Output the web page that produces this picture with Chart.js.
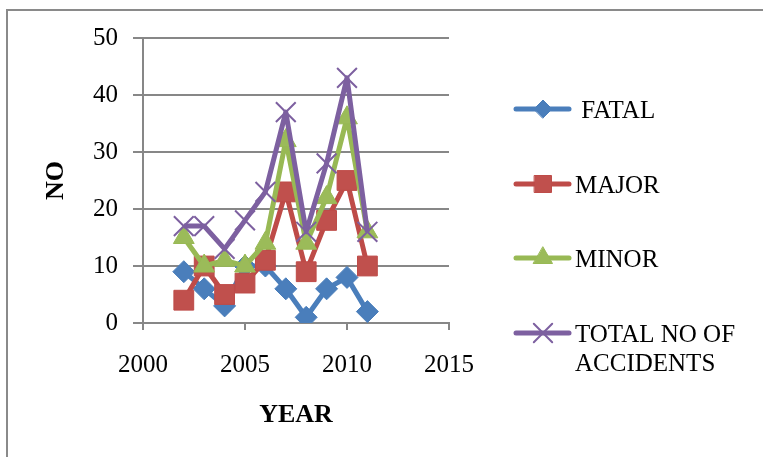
<!DOCTYPE html>
<html>
<head>
<meta charset="utf-8">
<script src="https://cdn.jsdelivr.net/npm/chart.js@4"></script>
<style>
  html, body { margin: 0; padding: 0; background: #fff; }
  #wrap { width: 763px; height: 457px; }
</style>
</head>
<body>
<div id="wrap"><canvas id="my-chart" width="763" height="457"></canvas></div>
<script>
const years = [2002, 2003, 2004, 2005, 2006, 2007, 2008, 2009, 2010, 2011];
const fatal = [9, 6, 3, 10, 10, 6, 1, 6, 8, 2];
const major = [4, 10, 5, 7, 11, 23, 9, 18, 25, 10];
const minor = [15, 10, 11, 10, 14, 32, 14, 22, 36, 16];
const total = [17, 17, 13, 18, 23, 37, 16, 28, 43, 16];
const seriesNames = [' FATAL', 'MAJOR', 'MINOR', ['TOTAL NO OF', 'ACCIDENTS']];

const FONT = '"Liberation Serif", "Times New Roman", serif';
const GRID = '#878787';

function pts(vals) {
  return vals.map((v, i) => ({ x: years[i], y: v }));
}

// frame round the chart
const framePlugin = {
  id: 'frame',
  beforeDraw(chart) {
    const c = chart.ctx;
    c.save();
    c.strokeStyle = '#8a8a8a';
    c.lineWidth = 2;
    c.strokeRect(7, 10, 820, 520);
    c.restore();
  }
};

// legend drawn by hand, laid out like the excel one
const legendPlugin = {
  id: 'sideLegend',
  afterDraw(chart) {
    const c = chart.ctx;
    const rows = [109, 184, 258, 333];
    c.save();
    chart.data.datasets.forEach((ds, i) => {
      const y = rows[i];
      c.strokeStyle = ds.borderColor;
      c.lineWidth = 5;
      c.lineCap = 'round';
      c.beginPath();
      c.moveTo(516, y);
      c.lineTo(569, y);
      c.stroke();
      c.fillStyle = ds.backgroundColor;
      c.strokeStyle = ds.borderColor;
      c.lineWidth = ds.pointBorderWidth;
      Chart.helpers.drawPoint(c, {
        pointStyle: ds.pointStyle,
        radius: ds.legendRadius,
        rotation: 0,
        borderWidth: ds.pointBorderWidth
      }, 543, y);
      c.fillStyle = '#000';
      c.font = '25px ' + FONT;
      c.textBaseline = 'middle';
      c.textAlign = 'left';
      const lines = Array.isArray(ds.label) ? ds.label : [ds.label];
      lines.forEach((t, k) => c.fillText(t, 575, y + 2 + k * 29));
    });
    c.restore();
  }
};

const ctx = document.getElementById('my-chart');
const myChart = new Chart(ctx, {
  type: 'line',
  data: {
    datasets: [
      {
        label: seriesNames[0],
        data: pts(fatal),
        borderColor: '#4a7ebb',
        backgroundColor: '#4a7ebb',
        pointStyle: 'rectRot',
        pointRadius: 11,
        legendRadius: 9,
        pointBorderWidth: 1,
        order: 4
      },
      {
        label: seriesNames[1],
        data: pts(major),
        borderColor: '#be4b48',
        backgroundColor: '#c0504d',
        pointStyle: 'rect',
        pointRadius: 14,
        legendRadius: 12,
        pointBorderWidth: 1,
        order: 3
      },
      {
        label: seriesNames[2],
        data: pts(minor),
        borderColor: '#98b954',
        backgroundColor: '#9bbb59',
        pointStyle: 'triangle',
        pointRadius: 12,
        legendRadius: 11,
        pointBorderWidth: 1,
        order: 2
      },
      {
        label: seriesNames[3],
        data: pts(total),
        borderColor: '#7d60a0',
        backgroundColor: '#7d60a0',
        pointStyle: 'crossRot',
        pointRadius: 14,
        legendRadius: 13,
        pointBorderWidth: 2,
        order: 1
      }
    ]
  },
  options: {
    responsive: false,
    animation: false,
    elements: {
      line: { borderWidth: 5, tension: 0, borderJoinStyle: 'round' }
    },
    layout: { padding: { left: 37, top: 38, right: 314, bottom: 22 } },
    plugins: {
      legend: { display: false },
      tooltip: { enabled: false }
    },
    scales: {
      x: {
        type: 'linear',
        min: 2000,
        max: 2015,
        afterFit(s) { s.height = 112; },
        ticks: {
          stepSize: 5,
          color: '#000',
          padding: 20,
          font: { family: FONT, size: 25 },
          callback: v => String(v)
        },
        grid: { drawOnChartArea: false, drawTicks: true, tickLength: 7, color: GRID, lineWidth: 2 },
        border: { display: true, color: GRID, width: 2 },
        title: {
          display: true,
          text: 'YEAR',
          color: '#000',
          font: { family: FONT, size: 26, weight: 'bold' }
        }
      },
      y: {
        min: 0,
        max: 50,
        afterFit(s) { s.width = 106; },
        ticks: {
          stepSize: 10,
          color: '#000',
          padding: 15,
          font: { family: FONT, size: 25 }
        },
        grid: { color: GRID, lineWidth: 2, tickLength: 10 },
        border: { display: true, color: GRID, width: 2 },
        title: {
          display: true,
          text: 'NO',
          color: '#000',
          font: { family: FONT, size: 26, weight: 'bold' }
        }
      }
    }
  },
  plugins: [framePlugin, legendPlugin]
});
</script>
</body>
</html>
